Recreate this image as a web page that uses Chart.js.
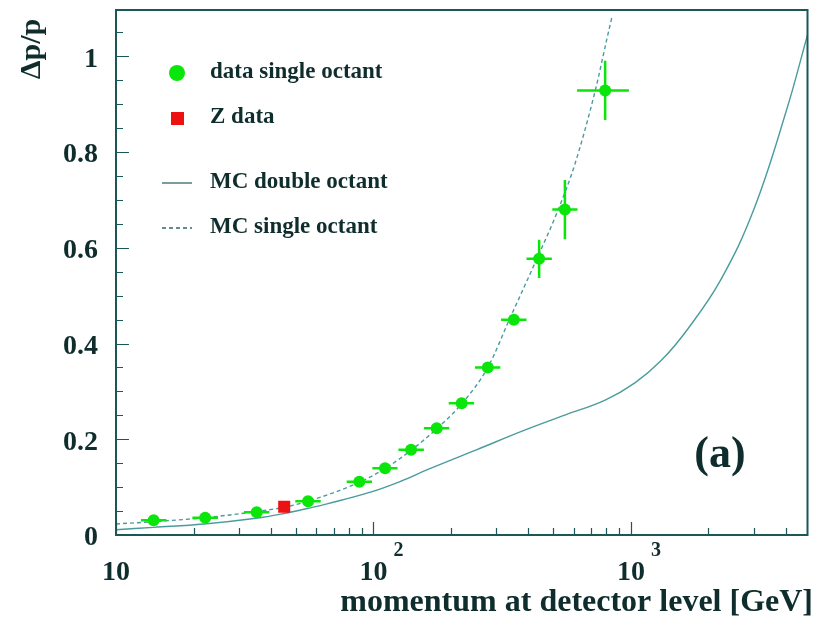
<!DOCTYPE html>
<html lang="en">
<head>
    <meta charset="UTF-8">
    <title>Momentum resolution</title>
    <script src="https://cdn.jsdelivr.net/npm/chart.js"></script>
    <style>
        body {
            margin: 0;
            background-color: #ffffff;
        }
        canvas {
            display: block;
        }
    </style>
</head>
<body>
    <canvas id="resChart" width="816" height="624"></canvas>

    <script>
        // data single octant
        const momentum   = [14.0, 22.2, 35.2, 55.7, 88.1, 110.9, 140, 176, 220, 278, 351, 440, 554, 794];
        const momLow     = [12.5, 19.8, 31.4, 49.7, 78.7, 99, 125, 157, 196, 248, 313, 393, 495, 618];
        const momHigh    = [15.7, 24.9, 39.4, 62.4, 98.7, 124, 157, 197, 246, 311, 393, 493, 620, 982];
        const resolution = [0.031, 0.036, 0.0475, 0.0705, 0.1115, 0.1395, 0.178, 0.223, 0.2755, 0.350, 0.450, 0.577, 0.680, 0.929];
        const resErr     = [0.003, 0.003, 0.004, 0.004, 0.005, 0.006, 0.006, 0.007, 0.008, 0.010, 0.011, 0.040, 0.062, 0.062];

        // Z data
        const zMomentum   = [45.0];
        const zResolution = [0.059];

        // MC double octant (solid)
        const mcDoubleP   = [10, 14, 22, 35, 45, 56, 66, 98, 130, 161, 251, 391, 557, 794, 1036, 1313, 1660, 2232, 3000, 4027, 4850];
        const mcDoubleRes = [0.011, 0.016, 0.023, 0.035, 0.045, 0.056, 0.065, 0.090, 0.114, 0.136, 0.178, 0.220, 0.251, 0.282, 0.318, 0.365, 0.430, 0.533, 0.680, 0.889, 1.045];

        // MC single octant (dashed)
        const mcSingleP   = [10, 14, 22, 35, 45, 56, 88, 111, 140, 176, 220, 278, 337, 431, 522, 605, 727, 806, 845];
        const mcSingleRes = [0.023, 0.028, 0.036, 0.049, 0.058, 0.071, 0.110, 0.139, 0.177, 0.222, 0.274, 0.350, 0.450, 0.577, 0.680, 0.774, 0.929, 1.036, 1.084];

        const yMajor = [0, 0.2, 0.4, 0.6, 0.8, 1];
        const yMajorLabels = ['0', '0.2', '0.4', '0.6', '0.8', '1'];

        const axisColor = '#1b5757';
        const textColor = '#0f2d2d';
        const curveColor = '#4a9c9c';
        const green = '#0ae60a';
        const red = '#ee1111';
        const serif = '"Liberation Serif", "DejaVu Serif", serif';

        const toXY = (xs, ys) => xs.map((x, i) => ({ x: x, y: ys[i] }));

        // error bars drawn just under the green markers
        const errorBars = {
            id: 'errorBars',
            beforeDatasetDraw(chart, args) {
                if (args.index !== 0) return;
                const c = chart.ctx, xs = chart.scales.x, ys = chart.scales.y;
                c.save();
                c.strokeStyle = green;
                c.lineWidth = 2.5;
                c.beginPath();
                momentum.forEach((p, i) => {
                    const px = xs.getPixelForValue(p), py = ys.getPixelForValue(resolution[i]);
                    c.moveTo(xs.getPixelForValue(momLow[i]), py);
                    c.lineTo(xs.getPixelForValue(momHigh[i]), py);
                    c.moveTo(px, ys.getPixelForValue(resolution[i] - resErr[i]));
                    c.lineTo(px, ys.getPixelForValue(resolution[i] + resErr[i]));
                });
                c.stroke();
                c.restore();
            }
        };

        // frame, inward ticks, labels, legend
        const frame = {
            id: 'frame',
            afterDraw(chart) {
                const c = chart.ctx, a = chart.chartArea;
                const xs = chart.scales.x, ys = chart.scales.y;
                c.save();
                c.strokeStyle = axisColor;
                c.lineWidth = 2;
                c.strokeRect(a.left, a.top, a.right - a.left, a.bottom - a.top);

                // ticks
                c.lineWidth = 1.2;
                c.beginPath();
                for (let v = 0; v <= 1.09; v += 0.05) {
                    const py = Math.round(ys.getPixelForValue(v)) + 0.5;
                    const major = Math.abs(v / 0.2 - Math.round(v / 0.2)) < 1e-6;
                    c.moveTo(a.left, py);
                    c.lineTo(a.left + (major ? 13 : 7), py);
                }
                for (let d = 10; d < 10000; d *= 10) {
                    for (let m = 1; m <= 9; m++) {
                        const v = d * m;
                        if (v < 10 || v > xs.max) continue;
                        const px = Math.round(xs.getPixelForValue(v)) + 0.5;
                        c.moveTo(px, a.bottom);
                        c.lineTo(px, a.bottom - (m === 1 ? 13 : 7));
                    }
                }
                c.stroke();

                // y tick labels
                c.fillStyle = textColor;
                c.font = 'bold 28px ' + serif;
                c.textAlign = 'right';
                c.textBaseline = 'middle';
                yMajor.forEach((v, i) => {
                    c.fillText(yMajorLabels[i], 98, ys.getPixelForValue(v) + 3);
                });

                // x tick labels
                c.textAlign = 'center';
                c.fillText('10', xs.getPixelForValue(10), 573);
                [[100, '2'], [1000, '3']].forEach(([v, e]) => {
                    const px = xs.getPixelForValue(v);
                    c.font = 'bold 28px ' + serif;
                    c.fillText('10', px, 573);
                    c.font = 'bold 20px ' + serif;
                    c.fillText(e, px + 25, 551);
                });

                // axis titles
                c.font = 'bold 32px ' + serif;
                c.textAlign = 'right';
                c.textBaseline = 'alphabetic';
                c.fillText('momentum at detector level [GeV]', 813, 611);

                c.save();
                c.translate(40, 49);
                c.rotate(-Math.PI / 2);
                c.textAlign = 'center';
                c.font = 'bold 30px ' + serif;
                c.fillText('\u0394p/p', 0, 0);
                c.restore();

                // panel label
                c.font = 'bold 44px ' + serif;
                c.textAlign = 'center';
                c.textBaseline = 'middle';
                c.fillText('(a)', 720, 456);

                // legend
                c.font = 'bold 23px ' + serif;
                c.textAlign = 'left';
                c.textBaseline = 'middle';
                c.fillStyle = green;
                c.beginPath();
                c.arc(177, 73, 8, 0, Math.PI * 2);
                c.fill();
                c.fillStyle = red;
                c.fillRect(171, 112, 13, 13);
                c.strokeStyle = '#336666';
                c.lineWidth = 1.3;
                c.beginPath();
                c.moveTo(162, 183);
                c.lineTo(192, 183);
                c.stroke();
                c.setLineDash([4, 3]);
                c.beginPath();
                c.moveTo(162, 228);
                c.lineTo(192, 228);
                c.stroke();
                c.setLineDash([]);
                c.fillStyle = textColor;
                c.fillText('data single octant', 210, 72);
                c.fillText('Z data', 210, 117);
                c.fillText('MC double octant', 210, 182);
                c.fillText('MC single octant', 210, 227);
                c.restore();
            }
        };

        const ctx = document.getElementById('resChart').getContext('2d');

        const chart = new Chart(ctx, {
            type: 'scatter',
            data: {
                datasets: [
                    {
                        label: 'data single octant',
                        data: toXY(momentum, resolution),
                        pointRadius: 6,
                        pointBackgroundColor: green,
                        pointBorderWidth: 0,
                        order: 0
                    },
                    {
                        label: 'Z data',
                        data: toXY(zMomentum, zResolution),
                        pointStyle: 'rect',
                        pointRadius: 8.5,
                        pointBackgroundColor: red,
                        pointBorderWidth: 0,
                        order: 1
                    },
                    {
                        label: 'MC single octant',
                        data: toXY(mcSingleP, mcSingleRes),
                        showLine: true,
                        borderColor: curveColor,
                        borderWidth: 1.4,
                        borderDash: [4, 3],
                        pointRadius: 0,
                        cubicInterpolationMode: 'monotone',
                        order: 2
                    },
                    {
                        label: 'MC double octant',
                        data: toXY(mcDoubleP, mcDoubleRes),
                        showLine: true,
                        borderColor: curveColor,
                        borderWidth: 1.4,
                        pointRadius: 0,
                        tension: 0.4,
                        order: 3
                    }
                ]
            },
            options: {
                responsive: false,
                animation: false,
                layout: {
                    padding: { left: 116, right: 2, top: 10, bottom: 89 }
                },
                scales: {
                    x: { type: 'logarithmic', min: 10, max: 4850, display: false },
                    y: { type: 'linear', min: 0, max: 1.097, display: false }
                },
                plugins: {
                    legend: { display: false },
                    tooltip: { enabled: false }
                }
            },
            plugins: [errorBars, frame]
        });
    </script>
</body>
</html>
